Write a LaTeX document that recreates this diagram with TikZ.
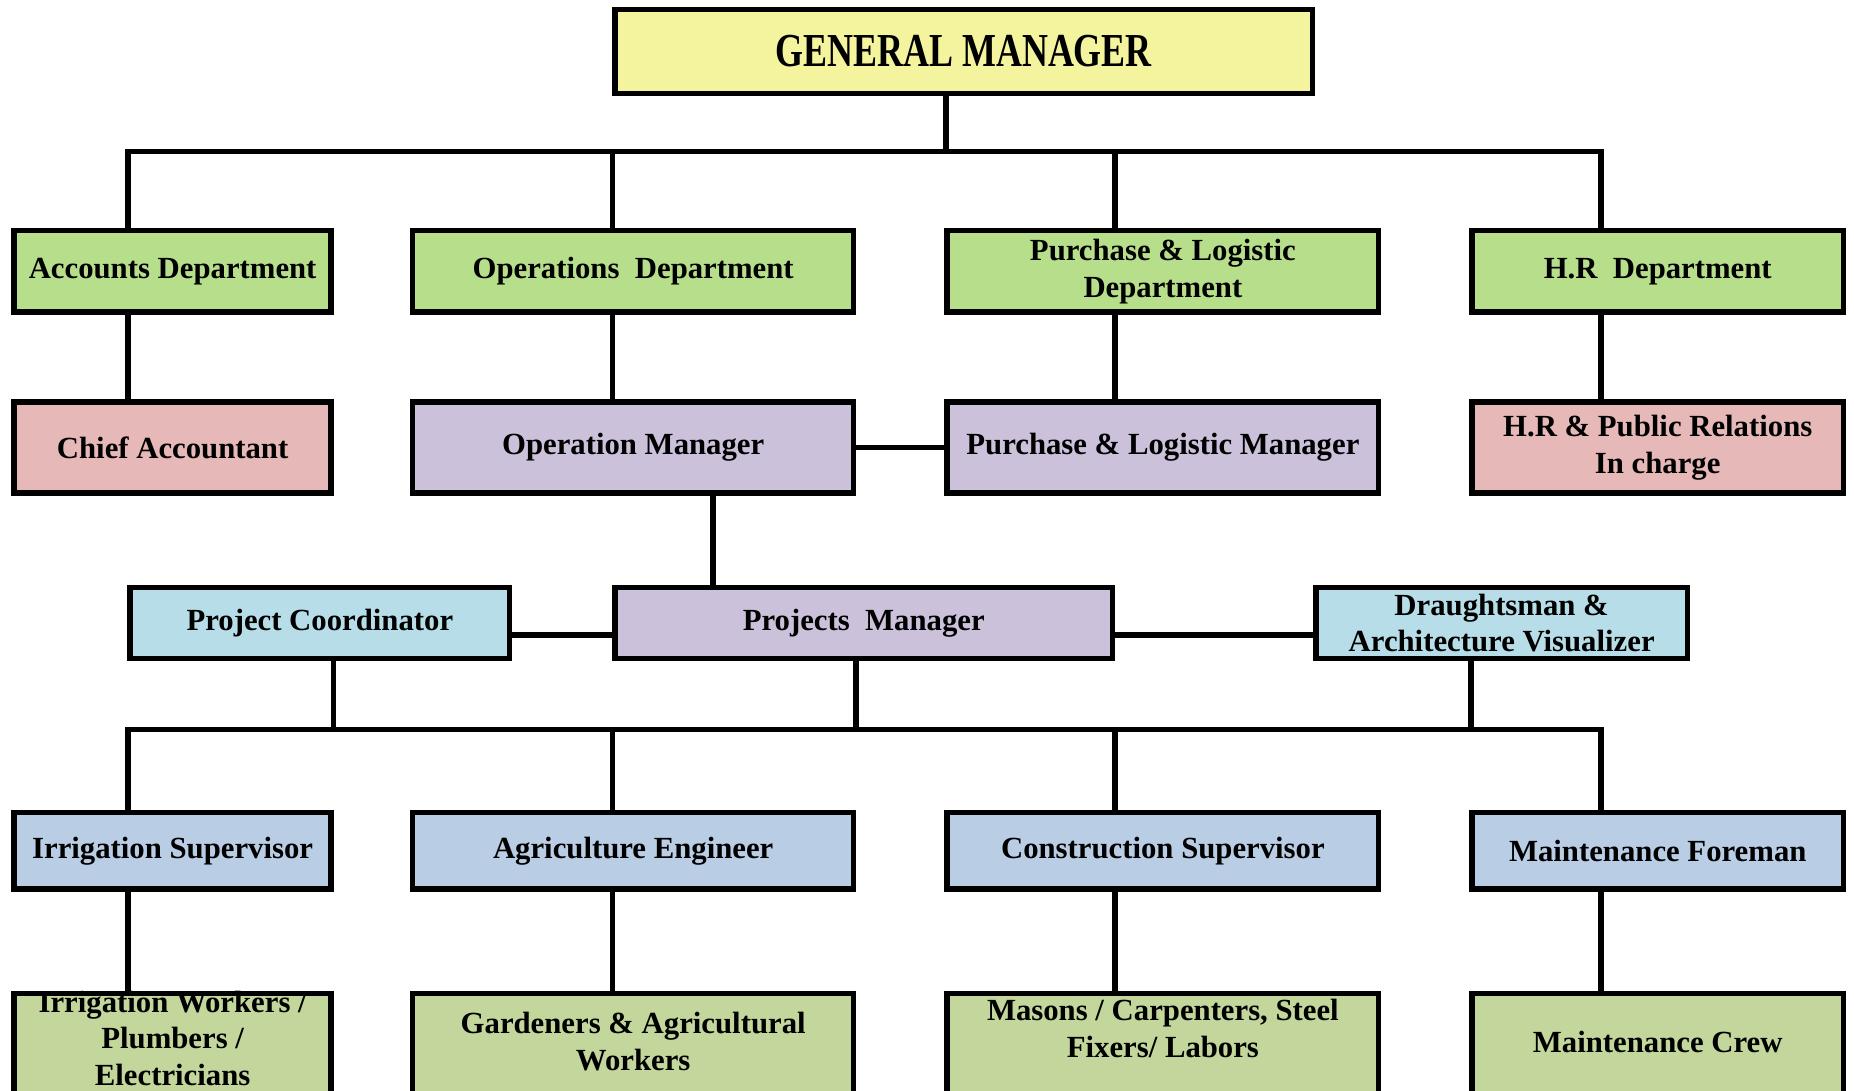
\documentclass[tikz,border=0pt]{standalone}
\usepackage{fontspec}
\setmainfont{Liberation Serif}
\definecolor{gmY}{HTML}{F4F49E}
\definecolor{deptG}{HTML}{B7DF8B}
\definecolor{pinkC}{HTML}{E6B8B7}
\definecolor{lavC}{HTML}{CCC1DA}
\definecolor{ltBlue}{HTML}{B7DEE8}
\definecolor{stBlue}{HTML}{B9CDE5}
\definecolor{oliveC}{HTML}{C3D69B}
\begin{document}
\begin{tikzpicture}[x=0.5pt,y=-0.5pt,
  box/.style={draw=black, line width=2.3pt, inner sep=0pt, align=center,
    font=\fontsize{13}{15.5}\selectfont\bfseries},
  lbl/.style={inner sep=0pt, align=center, font=\fontsize{13}{15.5}\selectfont\bfseries},
  conn/.style={line width=2.4pt},
  r2/.style={box, fill=deptG, minimum height=34.5pt},
  r3/.style={box, minimum height=38.5pt},
  r4/.style={box, minimum height=30pt},
  r5/.style={box, fill=stBlue, minimum height=32.5pt},
  r6/.style={box, fill=oliveC, minimum height=80pt},
  wA/.style={minimum width=134pt},
  wB/.style={minimum width=186.5pt},
  wC/.style={minimum width=182.5pt},
  wD/.style={minimum width=157pt}]
\useasboundingbox (0,0) rectangle (1568,922);
\clip (0,0) rectangle (1568,922);

% coordinates for connector columns
\coordinate (top) at (800,128);
\coordinate (d1) at (108,128);
\coordinate (d2) at (518,128);
\coordinate (d3) at (943,128);
\coordinate (d4) at (1354,128);
\coordinate (om) at (603,0);
\coordinate (h4) at (0,537);
\coordinate (b1) at (108,617);
\coordinate (b2) at (518,617);
\coordinate (b3) at (943,617);
\coordinate (b4) at (1354,617);
\coordinate (u1) at (282,617);
\coordinate (u2) at (724,617);
\coordinate (u3) at (1244,617);

% row 1
\node[box, fill=gmY, minimum width=295pt, minimum height=35.5pt] (gm) at (815,43.5)
  {\fontsize{20}{24}\selectfont\bfseries\scalebox{0.76}[1]{GENERAL MANAGER}};

% row 2
\node[r2, wA] (acc) at (146,229.5) {Accounts Department};
\node[r2, wB] (ops) at (535.5,229.5) {Operations\ \ Department};
\node[r2, wC] (pur) at (983.5,229.5) {Purchase \& Logistic\\Department};
\node[r2, wD] (hrd) at (1402,229.5) {H.R\ \ Department};

% row 3
\node[r3, wA, fill=pinkC] (chief) at (146,378.5) {Chief Accountant};
\node[r3, wB, fill=lavC] (opm) at (535.5,378.5) {Operation Manager};
\node[r3, wC, fill=lavC] (plm) at (983.5,378.5) {Purchase \& Logistic Manager};
\node[r3, wD, fill=pinkC] (hrpr) at (1402,378.5) {H.R \& Public Relations\\In charge};

% row 4
\node[r4, fill=ltBlue, minimum width=160.5pt] (pc) at (270.5,527) {Project Coordinator};
\node[r4, fill=lavC, minimum width=210.5pt] (pm) at (730.5,527) {Projects\ \ Manager};
\node[r4, fill=ltBlue, minimum width=157pt] (dav) at (1270,527) {Draughtsman \&\\Architecture Visualizer};

% row 5
\node[r5, wA] (irs) at (146,719.5) {Irrigation Supervisor};
\node[r5, wB] (age) at (535.5,719.5) {Agriculture Engineer};
\node[r5, wC] (cns) at (983.5,719.5) {Construction Supervisor};
\node[r5, wD] (mnf) at (1402,719.5) {Maintenance Foreman};

% row 6
\node[r6, wA] (irwB) at (146,920) {};
\node[r6, wB] (gawB) at (535.5,920) {};
\node[r6, wC] (masB) at (983.5,920) {};
\node[r6, wD] (mcB) at (1402,920) {};
\node[lbl] (irw) at (146,878) {Irrigation Workers /\\Plumbers /\\Electricians};
\node[lbl] (gaw) at (535.5,881) {Gardeners \& Agricultural\\Workers};
\node[lbl] (mas) at (983.5,870) {Masons / Carpenters, Steel\\Fixers/ Labors};
\node[lbl] (mc) at (1402,881) {Maintenance Crew};

% connectors top level
\draw[conn] (gm.south -| top) -- (top);
\draw[conn] (d1 |- acc.north) -- (d1) -- (d4) -- (d4 |- hrd.north);
\draw[conn] (d2) -- (d2 |- ops.north);
\draw[conn] (d3) -- (d3 |- pur.north);

% row 2 -> row 3
\draw[conn] (acc.south -| d1) -- (d1 |- chief.north);
\draw[conn] (ops.south -| d2) -- (d2 |- opm.north);
\draw[conn] (pur.south -| d3) -- (d3 |- plm.north);
\draw[conn] (hrd.south -| d4) -- (d4 |- hrpr.north);
\draw[conn] (opm.east) -- (plm.west);

% row 3 -> row 4
\draw[conn] (opm.south -| om) -- (om |- pm.north);
\draw[conn] (pc.east |- h4) -- (pm.west |- h4);
\draw[conn] (pm.east |- h4) -- (dav.west |- h4);

% row 4 -> bus
\draw[conn] (pc.south -| u1) -- (u1);
\draw[conn] (pm.south -| u2) -- (u2);
\draw[conn] (dav.south -| u3) -- (u3);
\draw[conn] (b1 |- irs.north) -- (b1) -- (b4) -- (b4 |- mnf.north);
\draw[conn] (b2) -- (b2 |- age.north);
\draw[conn] (b3) -- (b3 |- cns.north);

% row 5 -> row 6
\draw[conn] (irs.south -| b1) -- (b1 |- irwB.north);
\draw[conn] (age.south -| b2) -- (b2 |- gawB.north);
\draw[conn] (cns.south -| b3) -- (b3 |- masB.north);
\draw[conn] (mnf.south -| b4) -- (b4 |- mcB.north);
\end{tikzpicture}
\end{document}
